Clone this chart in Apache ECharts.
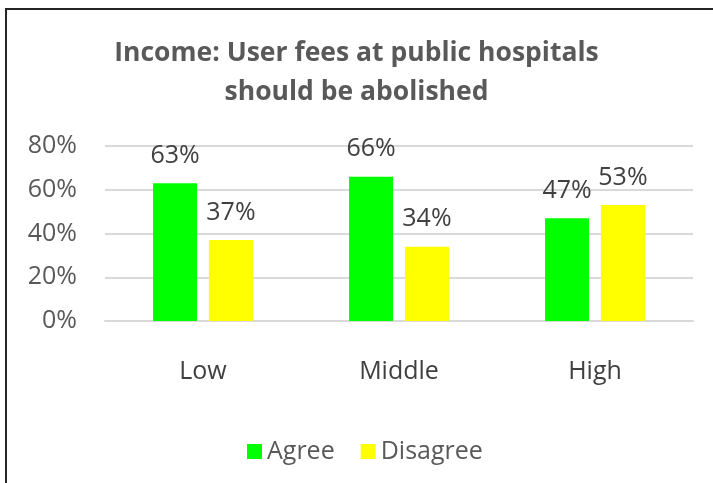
<!DOCTYPE html>
<html>
<head>
<meta charset="utf-8">
<script src="https://cdn.jsdelivr.net/npm/echarts@6/dist/echarts.min.js"></script>
<style>
  html, body { margin: 0; padding: 0; background: #fff; }
  #chart { width: 713px; height: 483px; }
</style>
</head>
<body>
<div id="chart"></div>
<script>
// Income groups and survey shares (%)
const categories = ['Low', 'Middle', 'High'];
const agree = [63, 66, 47];
const disagree = [37, 34, 53];
const yTicks = [0, 20, 40, 60, 80];

const FONT = '"Open Sans", sans-serif';
const chart = echarts.init(document.getElementById('chart'));

const labelStyle = {
  show: true,
  position: 'top',
  distance: 15,
  formatter: p => p.value + '%',
  color: '#404040',
  fontSize: 25,
  fontFamily: FONT
};

chart.setOption({
  animation: false,
  backgroundColor: '#ffffff',
  graphic: [{
    type: 'rect',
    shape: { x: 6, y: 9, width: 760, height: 520 },
    style: { fill: 'none', stroke: '#262626', lineWidth: 2 },
    silent: true
  }],
  title: {
    text: 'Income: User fees at public hospitals\nshould be abolished',
    left: 'center',
    top: 29,
    padding: [5, 5, 5, 12],
    textStyle: {
      color: '#595959',
      fontSize: 26.5,
      fontWeight: 'bold',
      fontFamily: FONT,
      lineHeight: 39
    }
  },
  legend: {
    data: ['Agree', 'Disagree'],
    left: 242,
    top: 434,
    itemWidth: 15,
    itemHeight: 15,
    itemGap: 26,
    icon: 'rect',
    textStyle: { color: '#595959', fontSize: 25, fontFamily: FONT }
  },
  grid: { left: 105, right: 20, top: 146, bottom: 162 },
  xAxis: {
    type: 'category',
    data: categories,
    axisLine: { show: true, lineStyle: { color: '#d9d9d9', width: 2 } },
    axisTick: { show: false },
    axisLabel: { color: '#404040', fontSize: 25, fontFamily: FONT, margin: 38 }
  },
  yAxis: {
    type: 'value',
    min: 0,
    max: 80,
    interval: 20,
    axisLine: { show: false },
    axisTick: { show: false },
    axisLabel: {
      color: '#595959', fontSize: 25, fontFamily: FONT, margin: 28,
      formatter: v => yTicks.includes(v) ? v + '%' : ''
    },
    splitLine: { lineStyle: { color: '#d9d9d9', width: 2 } }
  },
  series: [
    {
      name: 'Agree', type: 'bar', data: agree,
      barWidth: 44, barGap: '27%',
      itemStyle: { color: '#00ff00' },
      label: labelStyle
    },
    {
      name: 'Disagree', type: 'bar', data: disagree,
      barWidth: 44,
      itemStyle: { color: '#ffff00' },
      label: labelStyle
    }
  ]
});
</script>
</body>
</html>
